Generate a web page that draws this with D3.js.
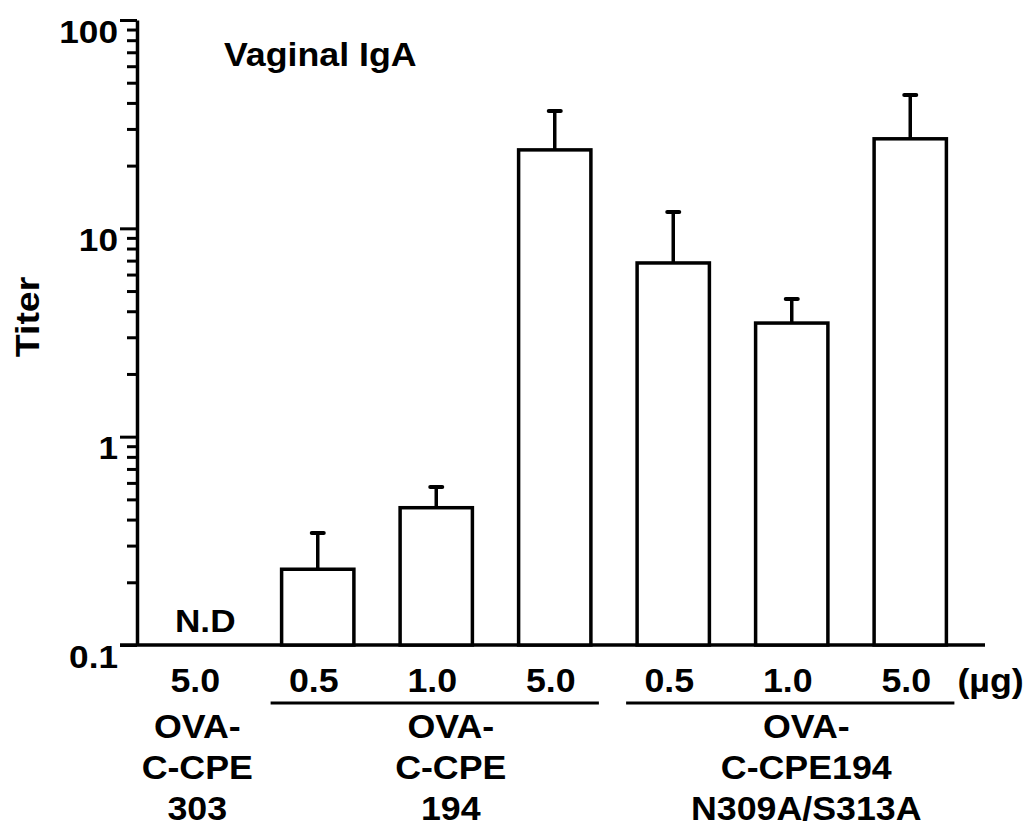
<!DOCTYPE html>
<html>
<head>
<meta charset="utf-8">
<script src="https://cdn.jsdelivr.net/npm/d3@7"></script>
<style>
  html, body { margin: 0; padding: 0; background: #fff; }
  svg { display: block; }
  text { font-family: "Liberation Sans", Arial, Helvetica, sans-serif; font-weight: bold; fill: #000; }
</style>
</head>
<body>
<svg id="chart" width="1032" height="828"></svg>
<script>
// ---- data ----
const categories = ["g1_5.0", "g2_0.5", "g2_1.0", "g2_5.0", "g3_0.5", "g3_1.0", "g3_5.0"];
const doseLabels = ["5.0", "0.5", "1.0", "5.0", "0.5", "1.0", "5.0"];
const titerMean  = [null, 0.231, 0.456, 23.8, 6.82, 3.51, 26.9];   // null = N.D
const titerSD    = [null, 0.114, 0.117, 12.8, 5.15, 1.07, 16.8];
const yTickValues = [0.1, 1, 10, 100];
const yTickLabels = ["0.1", "1", "10", "100"];
const groups = [
  { first: 0, last: 0, lines: ["OVA-", "C-CPE", "303"], underline: false },
  { first: 1, last: 3, lines: ["OVA-", "C-CPE", "194"], underline: true },
  { first: 4, last: 6, lines: ["OVA-", "C-CPE194", "N309A/S313A"], underline: true }
];
const titleText = "Vaginal IgA";
const yAxisTitle = "Titer";
const unitLabel = "(\u00b5g)";
const ndLabel = "N.D";

// ---- layout ----
const svg = d3.select("#chart");
const axisX = 137, axisY = 645, topY = 20, axisRight = 985;
const SX = 1.1; // horizontal stretch of the lettering

const x = d3.scaleBand().domain(categories).range([140, 969.5]).paddingInner(0.39).paddingOuter(0.195);
const y = d3.scaleLog().domain([0.1, 100]).range([axisY, topY]);

function stretchedText(g, tx, ty, str, size, anchor) {
  return g.append("text")
    .attr("transform", `translate(${tx},${ty}) scale(${SX},1)`)
    .attr("text-anchor", anchor || "middle")
    .style("font-size", size + "px")
    .text(str);
}

// minor ticks
const minorVals = [];
for (let d = 0.1; d < 100; d *= 10) for (let k = 2; k <= 9; k++) minorVals.push(+(d * k).toPrecision(3));
svg.append("g").attr("transform", `translate(${axisX},0)`)
  .call(d3.axisLeft(y).tickValues(minorVals).tickSize(10).tickSizeOuter(0).tickFormat(""))
  .call(g => g.select(".domain").remove())
  .call(g => g.selectAll("line").attr("stroke", "#000").attr("stroke-width", 3));

// major ticks + labels
svg.append("g").attr("transform", `translate(${axisX},0)`)
  .call(d3.axisLeft(y).tickValues(yTickValues).tickSize(17).tickSizeOuter(0)
        .tickFormat((d, i) => yTickLabels[i]))
  .call(g => g.select(".domain").attr("stroke", "#000").attr("stroke-width", 3.5))
  .call(g => g.selectAll(".tick line").attr("stroke", "#000").attr("stroke-width", 3))
  .call(g => g.selectAll(".tick text")
     .attr("x", null).attr("dy", null)
     .attr("transform", `translate(-19,22) scale(${SX},1)`)
     .attr("text-anchor", "end")
     .style("font-size", "32px")
     .style("font-family", "'Liberation Sans', Arial, Helvetica, sans-serif")
     .style("font-weight", "bold"));

// x axis baseline
svg.append("line").attr("x1", axisX - 17).attr("x2", axisRight)
  .attr("y1", axisY).attr("y2", axisY)
  .attr("stroke", "#000").attr("stroke-width", 3.5);

// bars
const data = categories.map((c, i) => ({ c, m: titerMean[i], sd: titerSD[i] }));
const barData = data.filter(d => d.m != null);
svg.append("g").selectAll("rect").data(barData).join("rect")
  .attr("x", d => x(d.c))
  .attr("width", x.bandwidth())
  .attr("y", d => y(d.m))
  .attr("height", d => axisY - y(d.m))
  .attr("fill", "#fff").attr("stroke", "#000").attr("stroke-width", 3.5);

// error bars
const eb = svg.append("g");
eb.selectAll("line.v").data(barData).join("line").attr("class", "v")
  .attr("x1", d => x(d.c) + x.bandwidth() / 2).attr("x2", d => x(d.c) + x.bandwidth() / 2)
  .attr("y1", d => y(d.m)).attr("y2", d => y(d.m + d.sd))
  .attr("stroke", "#000").attr("stroke-width", 3.5);
eb.selectAll("line.c").data(barData).join("line").attr("class", "c")
  .attr("x1", d => x(d.c) + x.bandwidth() / 2 - 6).attr("x2", d => x(d.c) + x.bandwidth() / 2 + 6)
  .attr("y1", d => y(d.m + d.sd)).attr("y2", d => y(d.m + d.sd))
  .attr("stroke", "#000").attr("stroke-width", 4).attr("stroke-linecap", "round");

// N.D label
data.forEach(d => {
  if (d.m == null) stretchedText(svg, x(d.c) + x.bandwidth() / 2 + 6, axisY - 13, ndLabel, 32);
});

// dose labels
const lab = svg.append("g");
categories.forEach((c, i) => {
  stretchedText(lab, x(c) + x.bandwidth() / 2 - 4, 692, doseLabels[i], 32.5);
});
stretchedText(lab, x(categories[6]) + x.bandwidth() + 11, 692, unitLabel, 32.5, "start");

// group underlines & labels
groups.forEach(g => {
  const x0 = x(categories[g.first]), x1 = x(categories[g.last]) + x.bandwidth();
  let cx;
  if (g.underline) {
    const u0 = x0 - 11, u1 = x1 + 8;
    lab.append("line").attr("x1", u0).attr("x2", u1).attr("y1", 703).attr("y2", 703)
      .attr("stroke", "#000").attr("stroke-width", 3);
    cx = (u0 + u1) / 2 + 16;
  } else {
    cx = (x0 + x1) / 2 - 2;
  }
  g.lines.forEach((t, k) => stretchedText(lab, cx, 738 + k * 41, t, 32.5));
});

// title and y-axis title
stretchedText(svg, 224, 66, titleText, 32.5, "start");
svg.append("text")
  .attr("transform", `translate(39,317) rotate(-90) scale(${SX},1)`)
  .attr("text-anchor", "middle")
  .style("font-size", "34px")
  .text(yAxisTitle);
</script>
</body>
</html>
